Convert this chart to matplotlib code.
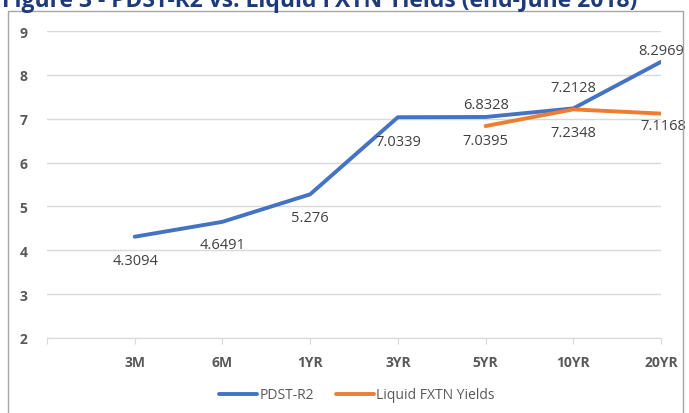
import matplotlib.pyplot as plt
import matplotlib.patches as patches

plt.rcParams['font.family'] = ['Open Sans', 'DejaVu Sans']

tenors = ["3M", "6M", "1YR", "3YR", "5YR", "10YR", "20YR"]
pdst_r2 = [4.3094, 4.6491, 5.276, 7.0339, 7.0395, 7.2348, 8.2969]
fxtn_tenors = ["5YR", "10YR", "20YR"]
fxtn_yields = [6.8328, 7.2128, 7.1168]

BLUE = "#4472C4"
ORANGE = "#ED7D31"
GRID = "#D9D9D9"
TXT = "#404040"
TICK = "#595959"

fig = plt.figure(figsize=(6.89, 4.14), dpi=100)
ax = fig.add_axes([47 / 689, 1 - 339 / 414, (661 - 47) / 689, (339 - 32) / 414])

x_blue = list(range(len(tenors)))
x_orange = [tenors.index(t) for t in fxtn_tenors]

ax.plot(x_blue, pdst_r2, color=BLUE, lw=2.8, solid_capstyle="round", label="PDST-R2")
ax.plot(x_orange, fxtn_yields, color=ORANGE, lw=2.8, solid_capstyle="round",
        label="Liquid FXTN Yields")

# label offsets in pixels (dx, dy)
blue_off = [(1, -24), (0, -23), (0, -23), (0, -24), (0, -24), (0, -24), (0, 11)]
orange_off = [(0, 22), (0, 22), (2, -12)]
for xi, v, (dx, dy) in zip(x_blue, pdst_r2, blue_off):
    ax.annotate(f"{v:g}", (xi, v), xytext=(dx, dy), textcoords="offset pixels",
                ha="center", va="center", fontsize=10.5, color=TXT, annotation_clip=False)
for xi, v, (dx, dy) in zip(x_orange, fxtn_yields, orange_off):
    ax.annotate(f"{v:g}", (xi, v), xytext=(dx, dy), textcoords="offset pixels",
                ha="center", va="center", fontsize=10.5, color=TXT, annotation_clip=False)

ax.set_xlim(-1, len(tenors) - 1)
ax.set_ylim(2, 9)
ax.set_xticks(range(-1, len(tenors)))
ax.set_xticklabels([""] + tenors)
ax.set_yticks(range(2, 10))
ax.grid(axis="y", color=GRID, lw=1)
ax.set_axisbelow(True)
for s in ["top", "right", "left"]:
    ax.spines[s].set_visible(False)
ax.spines["bottom"].set_color(GRID)
ax.tick_params(axis="x", length=4, color=GRID, pad=8, labelsize=10, labelcolor=TICK)
ax.tick_params(axis="y", length=0, pad=14, labelsize=10, labelcolor=TICK)
for lab in ax.get_xticklabels() + ax.get_yticklabels():
    lab.set_fontweight("bold")

leg = fig.legend(loc="center", bbox_to_anchor=(357 / 689, 1 - 396 / 414), ncol=2,
                 frameon=False, fontsize=10, handlelength=2.7, handletextpad=0.2,
                 columnspacing=1.6)
for t in leg.get_texts():
    t.set_color(TICK)

# chart frame (bottom edge lies below the image)
fig.patches.append(patches.Rectangle((8 / 689, -0.1), (683 - 8) / 689, 1.1 - 12 / 414,
                                     transform=fig.transFigure, fill=False,
                                     edgecolor="#A6A6A6", lw=1))

# figure caption, cut off at the top edge as in the source
fig.text(2 / 689, 1 - 7 / 414, "Figure 3 - PDST-R2 vs. Liquid FXTN Yields (end-June 2018)",
         ha="left", va="baseline", fontsize=16.5, fontweight="bold", color="#1F3A78")

fig.savefig("out.png", dpi=100)
